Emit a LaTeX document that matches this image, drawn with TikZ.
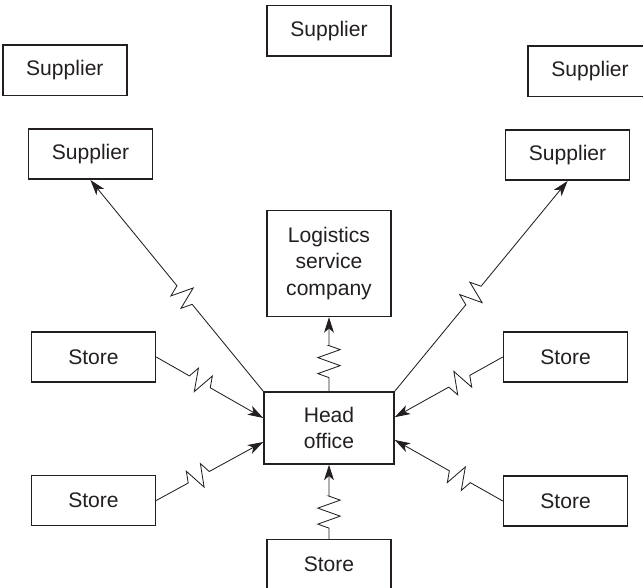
\documentclass[tikz,border=0pt]{standalone}
\usepackage{fontspec}
\setmainfont{Liberation Sans}
\usetikzlibrary{positioning, arrows.meta, calc, decorations.pathmorphing}
\definecolor{ink}{RGB}{35,31,32}

\begin{document}
\begin{tikzpicture}[>={Stealth[length=11pt,width=7pt,inset=3pt]}, ink,
    box/.style={draw, line width=1.1pt, inner sep=0pt, align=center, minimum width=3.1cm, minimum height=1.26cm, font=\fontsize{15}{19}\selectfont},
    link/.style={->, line width=0.6pt},
    zig/.style={to path={-- ($(\tikztostart)!#1!(\tikztotarget)!-0.4cm!(\tikztotarget)$) decorate[decoration={zigzag, segment length=0.4cm, amplitude=0.28cm}] {-- ($(\tikztostart)!#1!(\tikztotarget)!0.4cm!(\tikztotarget)$)} -- (\tikztotarget)}}]
    \useasboundingbox (0,0) rectangle (16.075,14.7);
    \node[box, minimum width=3.25cm, minimum height=1.8cm] (head) at (8.225,4.0) {Head\\office};
    \node[box, minimum height=2.65cm] (logi) [above=1.85cm of head] {Logistics\\service\\company};
    \node[box] (sup) [above=3.825cm of logi] {Supplier};
    \node[box, minimum height=1.23cm] (st-b) [below=1.85cm of head] {Store};
    \node[box] (st-lt) [left=2.675cm of head, yshift=1.775cm] {Store};
    \node[box] (st-lb) [left=2.675cm of head, yshift=-1.8125cm] {Store};
    \node[box] (st-rt) [right=2.7cm of head, yshift=1.775cm] {Store};
    \node[box] (st-rb) [right=2.7cm of head, yshift=-1.825cm] {Store};
    \node[box] (sup-l2) [above=3.775cm of st-lt, xshift=-0.075cm] {Supplier};
    \node[box] (sup-l1) [above=0.8cm of sup-l2, xshift=-0.64cm] {Supplier};
    \node[box] (sup-r2) [above=3.75cm of st-rt, xshift=0.05cm] {Supplier};
    \node[box] (sup-r1) [above=0.8cm of sup-r2, xshift=0.5625cm] {Supplier};
    \coordinate (in-lt) at ($(head.west)+(0,0.25)$);
    \coordinate (in-lb) at ($(head.west)+(0,-0.35)$);
    \coordinate (in-rt) at ($(head.east)+(0,0.27)$);
    \coordinate (in-rb) at ($(head.east)+(0,-0.3)$);
    % links out of the head office
    \draw[link] (head.north west) to[zig=0.47] (sup-l2.south);
    \draw[link] (head.north east) to[zig=0.47] (sup-r2.south);
    \draw[link] (head.north) to[zig=0.4] (logi.south);
    % links from the stores
    \draw[link] (st-b.north) to[zig=0.36] (head.south);
    \draw[link] (st-lt.east) to[zig=0.44] (in-lt);
    \draw[link] (st-lb.east) to[zig=0.43] (in-lb);
    \draw[link] (st-rt.west) to[zig=0.435] (in-rt);
    \draw[link] (st-rb.west) to[zig=0.43] (in-rb);
\end{tikzpicture}
\end{document}
